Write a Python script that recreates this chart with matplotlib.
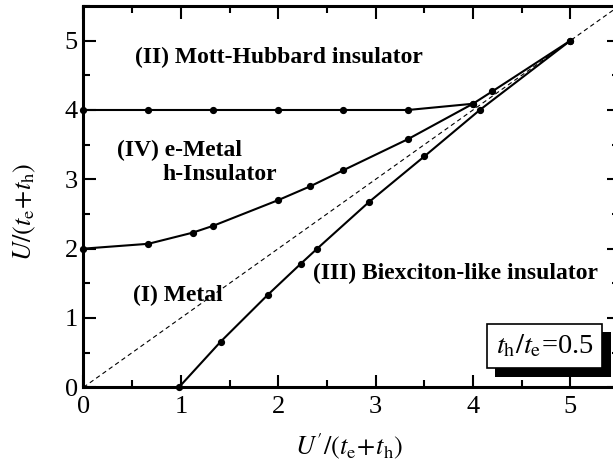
import matplotlib
matplotlib.use('Agg')
import matplotlib.pyplot as plt
import matplotlib.patheffects as pe
from matplotlib.ticker import MultipleLocator

plt.rcParams['font.family'] = ['Liberation Serif', 'DejaVu Serif']
plt.rcParams['mathtext.fontset'] = 'stix'

# phase boundaries
mott_x = [0, 0.667, 1.333, 2.0, 2.667, 3.333, 4.0]
mott_y = [4.0, 4.0, 4.0, 4.0, 4.0, 4.0, 4.09]

emetal_x = [0, 0.667, 1.12, 1.333, 2.0, 2.33, 2.667, 3.333, 4.0, 4.2, 5.0]
emetal_y = [2.0, 2.07, 2.23, 2.33, 2.70, 2.90, 3.13, 3.58, 4.09, 4.27, 5.0]

biex_x = [0.98, 1.41, 1.89, 2.23, 2.40, 2.93, 3.50, 4.07, 5.0]
biex_y = [0.0, 0.66, 1.33, 1.78, 2.0, 2.67, 3.33, 4.0, 5.0]

diag = [0, 5.5]

fig = plt.figure(figsize=(6.13, 4.62), dpi=100)
# right spine sits just outside the picture, as in the original
ax = fig.add_axes([0.1362, 0.1617, 0.8736, 0.8253])

ax.plot(diag, diag, color='black', lw=0.8, ls=(0, (4, 3)))
for xs, ys in [(mott_x, mott_y), (emetal_x, emetal_y), (biex_x, biex_y)]:
    ax.plot(xs, ys, color='black', lw=1.5, marker='o', ms=4.2, clip_on=False, zorder=3)

ax.set_xlim(0, 5.5)
ax.set_ylim(0, 5.5)
ax.xaxis.set_major_locator(MultipleLocator(1))
ax.xaxis.set_minor_locator(MultipleLocator(0.5))
ax.yaxis.set_major_locator(MultipleLocator(1))
ax.yaxis.set_minor_locator(MultipleLocator(0.5))
ax.tick_params(which='both', direction='in', top=True, right=True, width=1.5)
ax.tick_params(which='major', length=9, labelsize=19)
ax.tick_params(which='minor', length=5)
ax.tick_params(axis='x', pad=6)
ax.tick_params(axis='y', pad=4)
for s in ax.spines.values():
    s.set_linewidth(2.2)

ax.set_xlabel(r"$U'/(t_{\rm e}\!+\!t_{\rm h})$", fontsize=19)
ax.set_ylabel(r"$U/(t_{\rm e}\!+\!t_{\rm h})$", fontsize=19)
ax.xaxis.set_label_coords(0.496, -0.115)
ax.yaxis.set_label_coords(-0.085, 0.46)

bold = dict(fontsize=17, fontweight='bold', va='center', ha='left')
ax.text(0.53, 4.76, '(II) Mott-Hubbard insulator', **bold)
ax.text(0.34, 3.42, '(IV) e-Metal', **bold)
ax.text(0.81, 3.07, 'h-Insulator', **bold)
ax.text(0.51, 1.33, '(I) Metal', **bold)
ax.text(2.36, 1.645, '(III) Biexciton-like insulator', **bold)

# parameter box with a solid drop shadow
t = ax.text(4.735, 0.596, r'$t_{\rm h}/t_{\rm e}$=0.5', fontsize=20.5, ha='center', va='center',
            zorder=5, bbox=dict(boxstyle='square,pad=0.32', fc='white', ec='black', lw=1.2))
t.get_bbox_patch().set_path_effects([
    pe.SimplePatchShadow(offset=(6, -6), shadow_rgbFace='black', alpha=1.0),
    pe.Normal()])

fig.savefig('out.png', dpi=100)
